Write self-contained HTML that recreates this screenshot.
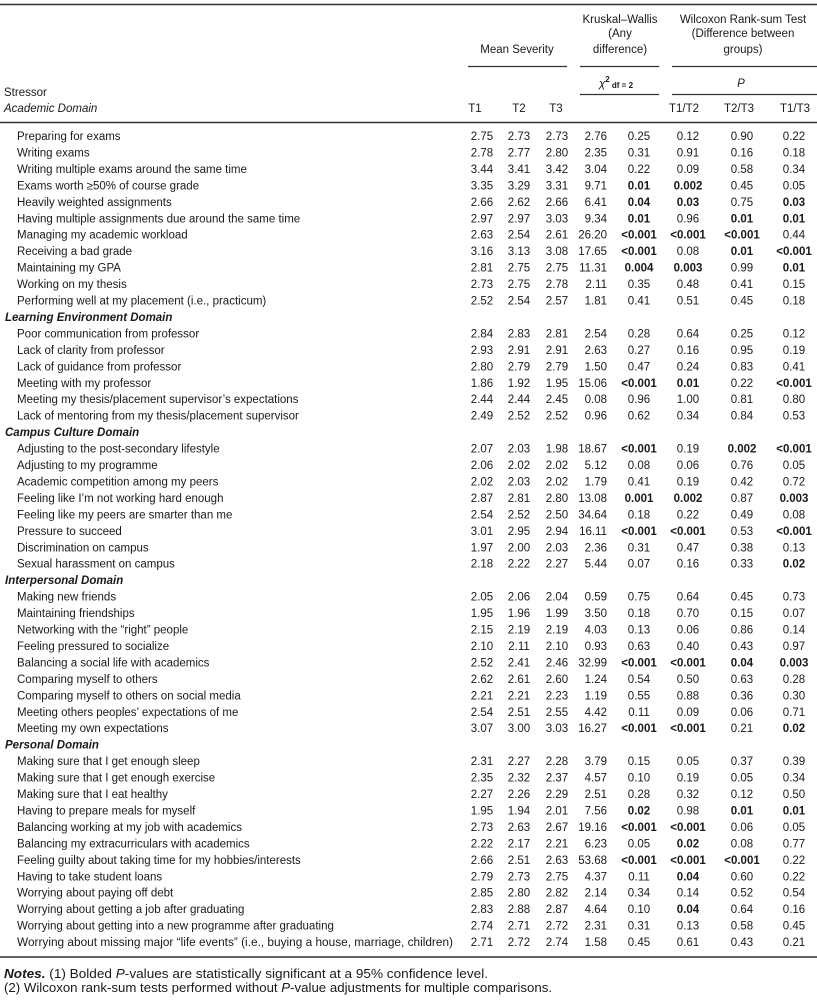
<!DOCTYPE html>
<html>
<head>
<meta charset="utf-8">
<style>
  html, body { margin: 0; padding: 0; background: #fff; }
  svg { display: block; }
  text { font-family: "Liberation Sans", "DejaVu Sans", sans-serif; font-size: 11.5px; fill: #1a1a1a; }
  .b { font-weight: bold; }
  .i { font-style: italic; }
  .bi { font-weight: bold; font-style: italic; }
  .n { font-size: 12.5px; }
</style>
</head>
<body>
<svg width="817" height="1000" viewBox="0 0 817 1000" xmlns="http://www.w3.org/2000/svg">
  <!-- rules -->
  <line x1="0" y1="4.5" x2="817" y2="4.5" stroke="#333" stroke-width="1.4"/>
  <line x1="468" y1="66.5" x2="567" y2="66.5" stroke="#333" stroke-width="1.2"/>
  <line x1="580" y1="66.5" x2="659" y2="66.5" stroke="#333" stroke-width="1.2"/>
  <line x1="672" y1="66.5" x2="817" y2="66.5" stroke="#333" stroke-width="1.2"/>
  <line x1="580" y1="94.5" x2="659" y2="94.5" stroke="#333" stroke-width="1.2"/>
  <line x1="672" y1="94.5" x2="817" y2="94.5" stroke="#333" stroke-width="1.2"/>
  <line x1="0" y1="122.5" x2="817" y2="122.5" stroke="#333" stroke-width="1.4"/>
  <line x1="0" y1="957" x2="817" y2="957" stroke="#333" stroke-width="1.4"/>

  <!-- header -->
  <text x="620" y="23" text-anchor="middle">Kruskal–Wallis</text>
  <text x="620" y="37" text-anchor="middle">(Any</text>
  <text x="620" y="53" text-anchor="middle">difference)</text>
  <text x="743" y="23" text-anchor="middle">Wilcoxon Rank-sum Test</text>
  <text x="743" y="37" text-anchor="middle">(Difference between</text>
  <text x="743" y="53" text-anchor="middle">groups)</text>
  <text x="517" y="53" text-anchor="middle">Mean Severity</text>
  <text x="616" y="87" text-anchor="middle"><tspan class="i">χ</tspan><tspan dy="-5" font-size="8" font-weight="bold">2</tspan><tspan dy="6" font-size="8" font-weight="bold"> df = 2</tspan></text>
  <text x="741" y="87" text-anchor="middle" class="i">P</text>
  <text x="4" y="96">Stressor</text>
  <text x="4" y="112" class="i">Academic Domain</text>
  <text x="475" y="112" text-anchor="middle">T1</text>
  <text x="519" y="112" text-anchor="middle">T2</text>
  <text x="556" y="112" text-anchor="middle">T3</text>
  <text x="684" y="112" text-anchor="middle">T1/T2</text>
  <text x="739" y="112" text-anchor="middle">T2/T3</text>
  <text x="795" y="112" text-anchor="middle">T1/T3</text>

  <!-- rows -->
  <g transform="translate(0,140)"><text x="17">Preparing for exams</text><text x="482" text-anchor="middle">2.75</text><text x="519" text-anchor="middle">2.73</text><text x="557" text-anchor="middle">2.73</text><text x="607" text-anchor="end">2.76</text><text x="639" text-anchor="middle">0.25</text><text x="688" text-anchor="middle">0.12</text><text x="742" text-anchor="middle">0.90</text><text x="794" text-anchor="middle">0.22</text></g>
  <g transform="translate(0,156.45)"><text x="17">Writing exams</text><text x="482" text-anchor="middle">2.78</text><text x="519" text-anchor="middle">2.77</text><text x="557" text-anchor="middle">2.80</text><text x="607" text-anchor="end">2.35</text><text x="639" text-anchor="middle">0.31</text><text x="688" text-anchor="middle">0.91</text><text x="742" text-anchor="middle">0.16</text><text x="794" text-anchor="middle">0.18</text></g>
  <g transform="translate(0,172.9)"><text x="17">Writing multiple exams around the same time</text><text x="482" text-anchor="middle">3.44</text><text x="519" text-anchor="middle">3.41</text><text x="557" text-anchor="middle">3.42</text><text x="607" text-anchor="end">3.04</text><text x="639" text-anchor="middle">0.22</text><text x="688" text-anchor="middle">0.09</text><text x="742" text-anchor="middle">0.58</text><text x="794" text-anchor="middle">0.34</text></g>
  <g transform="translate(0,189.35)"><text x="17">Exams worth ≥50% of course grade</text><text x="482" text-anchor="middle">3.35</text><text x="519" text-anchor="middle">3.29</text><text x="557" text-anchor="middle">3.31</text><text x="607" text-anchor="end">9.71</text><text x="639" text-anchor="middle" class="b">0.01</text><text x="688" text-anchor="middle" class="b">0.002</text><text x="742" text-anchor="middle">0.45</text><text x="794" text-anchor="middle">0.05</text></g>
  <g transform="translate(0,205.8)"><text x="17">Heavily weighted assignments</text><text x="482" text-anchor="middle">2.66</text><text x="519" text-anchor="middle">2.62</text><text x="557" text-anchor="middle">2.66</text><text x="607" text-anchor="end">6.41</text><text x="639" text-anchor="middle" class="b">0.04</text><text x="688" text-anchor="middle" class="b">0.03</text><text x="742" text-anchor="middle">0.75</text><text x="794" text-anchor="middle" class="b">0.03</text></g>
  <g transform="translate(0,222.25)"><text x="17">Having multiple assignments due around the same time</text><text x="482" text-anchor="middle">2.97</text><text x="519" text-anchor="middle">2.97</text><text x="557" text-anchor="middle">3.03</text><text x="607" text-anchor="end">9.34</text><text x="639" text-anchor="middle" class="b">0.01</text><text x="688" text-anchor="middle">0.96</text><text x="742" text-anchor="middle" class="b">0.01</text><text x="794" text-anchor="middle" class="b">0.01</text></g>
  <g transform="translate(0,238.7)"><text x="17">Managing my academic workload</text><text x="482" text-anchor="middle">2.63</text><text x="519" text-anchor="middle">2.54</text><text x="557" text-anchor="middle">2.61</text><text x="607" text-anchor="end">26.20</text><text x="639" text-anchor="middle" class="b">&lt;0.001</text><text x="688" text-anchor="middle" class="b">&lt;0.001</text><text x="742" text-anchor="middle" class="b">&lt;0.001</text><text x="794" text-anchor="middle">0.44</text></g>
  <g transform="translate(0,255.15)"><text x="17">Receiving a bad grade</text><text x="482" text-anchor="middle">3.16</text><text x="519" text-anchor="middle">3.13</text><text x="557" text-anchor="middle">3.08</text><text x="607" text-anchor="end">17.65</text><text x="639" text-anchor="middle" class="b">&lt;0.001</text><text x="688" text-anchor="middle">0.08</text><text x="742" text-anchor="middle" class="b">0.01</text><text x="794" text-anchor="middle" class="b">&lt;0.001</text></g>
  <g transform="translate(0,271.6)"><text x="17">Maintaining my GPA</text><text x="482" text-anchor="middle">2.81</text><text x="519" text-anchor="middle">2.75</text><text x="557" text-anchor="middle">2.75</text><text x="607" text-anchor="end">11.31</text><text x="639" text-anchor="middle" class="b">0.004</text><text x="688" text-anchor="middle" class="b">0.003</text><text x="742" text-anchor="middle">0.99</text><text x="794" text-anchor="middle" class="b">0.01</text></g>
  <g transform="translate(0,288.05)"><text x="17">Working on my thesis</text><text x="482" text-anchor="middle">2.73</text><text x="519" text-anchor="middle">2.75</text><text x="557" text-anchor="middle">2.78</text><text x="607" text-anchor="end">2.11</text><text x="639" text-anchor="middle">0.35</text><text x="688" text-anchor="middle">0.48</text><text x="742" text-anchor="middle">0.41</text><text x="794" text-anchor="middle">0.15</text></g>
  <g transform="translate(0,304.5)"><text x="17">Performing well at my placement (i.e., practicum)</text><text x="482" text-anchor="middle">2.52</text><text x="519" text-anchor="middle">2.54</text><text x="557" text-anchor="middle">2.57</text><text x="607" text-anchor="end">1.81</text><text x="639" text-anchor="middle">0.41</text><text x="688" text-anchor="middle">0.51</text><text x="742" text-anchor="middle">0.45</text><text x="794" text-anchor="middle">0.18</text></g>

  <g transform="translate(0,320.95)"><text x="5" class="bi">Learning Environment Domain</text></g>
  <g transform="translate(0,337.4)"><text x="17">Poor communication from professor</text><text x="482" text-anchor="middle">2.84</text><text x="519" text-anchor="middle">2.83</text><text x="557" text-anchor="middle">2.81</text><text x="607" text-anchor="end">2.54</text><text x="639" text-anchor="middle">0.28</text><text x="688" text-anchor="middle">0.64</text><text x="742" text-anchor="middle">0.25</text><text x="794" text-anchor="middle">0.12</text></g>
  <g transform="translate(0,353.85)"><text x="17">Lack of clarity from professor</text><text x="482" text-anchor="middle">2.93</text><text x="519" text-anchor="middle">2.91</text><text x="557" text-anchor="middle">2.91</text><text x="607" text-anchor="end">2.63</text><text x="639" text-anchor="middle">0.27</text><text x="688" text-anchor="middle">0.16</text><text x="742" text-anchor="middle">0.95</text><text x="794" text-anchor="middle">0.19</text></g>
  <g transform="translate(0,370.3)"><text x="17">Lack of guidance from professor</text><text x="482" text-anchor="middle">2.80</text><text x="519" text-anchor="middle">2.79</text><text x="557" text-anchor="middle">2.79</text><text x="607" text-anchor="end">1.50</text><text x="639" text-anchor="middle">0.47</text><text x="688" text-anchor="middle">0.24</text><text x="742" text-anchor="middle">0.83</text><text x="794" text-anchor="middle">0.41</text></g>
  <g transform="translate(0,386.75)"><text x="17">Meeting with my professor</text><text x="482" text-anchor="middle">1.86</text><text x="519" text-anchor="middle">1.92</text><text x="557" text-anchor="middle">1.95</text><text x="607" text-anchor="end">15.06</text><text x="639" text-anchor="middle" class="b">&lt;0.001</text><text x="688" text-anchor="middle" class="b">0.01</text><text x="742" text-anchor="middle">0.22</text><text x="794" text-anchor="middle" class="b">&lt;0.001</text></g>
  <g transform="translate(0,403.2)"><text x="17">Meeting my thesis/placement supervisor’s expectations</text><text x="482" text-anchor="middle">2.44</text><text x="519" text-anchor="middle">2.44</text><text x="557" text-anchor="middle">2.45</text><text x="607" text-anchor="end">0.08</text><text x="639" text-anchor="middle">0.96</text><text x="688" text-anchor="middle">1.00</text><text x="742" text-anchor="middle">0.81</text><text x="794" text-anchor="middle">0.80</text></g>
  <g transform="translate(0,419.65)"><text x="17">Lack of mentoring from my thesis/placement supervisor</text><text x="482" text-anchor="middle">2.49</text><text x="519" text-anchor="middle">2.52</text><text x="557" text-anchor="middle">2.52</text><text x="607" text-anchor="end">0.96</text><text x="639" text-anchor="middle">0.62</text><text x="688" text-anchor="middle">0.34</text><text x="742" text-anchor="middle">0.84</text><text x="794" text-anchor="middle">0.53</text></g>

  <g transform="translate(0,436.1)"><text x="5" class="bi">Campus Culture Domain</text></g>
  <g transform="translate(0,452.55)"><text x="17">Adjusting to the post-secondary lifestyle</text><text x="482" text-anchor="middle">2.07</text><text x="519" text-anchor="middle">2.03</text><text x="557" text-anchor="middle">1.98</text><text x="607" text-anchor="end">18.67</text><text x="639" text-anchor="middle" class="b">&lt;0.001</text><text x="688" text-anchor="middle">0.19</text><text x="742" text-anchor="middle" class="b">0.002</text><text x="794" text-anchor="middle" class="b">&lt;0.001</text></g>
  <g transform="translate(0,469)"><text x="17">Adjusting to my programme</text><text x="482" text-anchor="middle">2.06</text><text x="519" text-anchor="middle">2.02</text><text x="557" text-anchor="middle">2.02</text><text x="607" text-anchor="end">5.12</text><text x="639" text-anchor="middle">0.08</text><text x="688" text-anchor="middle">0.06</text><text x="742" text-anchor="middle">0.76</text><text x="794" text-anchor="middle">0.05</text></g>
  <g transform="translate(0,485.45)"><text x="17">Academic competition among my peers</text><text x="482" text-anchor="middle">2.02</text><text x="519" text-anchor="middle">2.03</text><text x="557" text-anchor="middle">2.02</text><text x="607" text-anchor="end">1.79</text><text x="639" text-anchor="middle">0.41</text><text x="688" text-anchor="middle">0.19</text><text x="742" text-anchor="middle">0.42</text><text x="794" text-anchor="middle">0.72</text></g>
  <g transform="translate(0,501.9)"><text x="17">Feeling like I’m not working hard enough</text><text x="482" text-anchor="middle">2.87</text><text x="519" text-anchor="middle">2.81</text><text x="557" text-anchor="middle">2.80</text><text x="607" text-anchor="end">13.08</text><text x="639" text-anchor="middle" class="b">0.001</text><text x="688" text-anchor="middle" class="b">0.002</text><text x="742" text-anchor="middle">0.87</text><text x="794" text-anchor="middle" class="b">0.003</text></g>
  <g transform="translate(0,518.35)"><text x="17">Feeling like my peers are smarter than me</text><text x="482" text-anchor="middle">2.54</text><text x="519" text-anchor="middle">2.52</text><text x="557" text-anchor="middle">2.50</text><text x="607" text-anchor="end">34.64</text><text x="639" text-anchor="middle">0.18</text><text x="688" text-anchor="middle">0.22</text><text x="742" text-anchor="middle">0.49</text><text x="794" text-anchor="middle">0.08</text></g>
  <g transform="translate(0,534.8)"><text x="17">Pressure to succeed</text><text x="482" text-anchor="middle">3.01</text><text x="519" text-anchor="middle">2.95</text><text x="557" text-anchor="middle">2.94</text><text x="607" text-anchor="end">16.11</text><text x="639" text-anchor="middle" class="b">&lt;0.001</text><text x="688" text-anchor="middle" class="b">&lt;0.001</text><text x="742" text-anchor="middle">0.53</text><text x="794" text-anchor="middle" class="b">&lt;0.001</text></g>
  <g transform="translate(0,551.25)"><text x="17">Discrimination on campus</text><text x="482" text-anchor="middle">1.97</text><text x="519" text-anchor="middle">2.00</text><text x="557" text-anchor="middle">2.03</text><text x="607" text-anchor="end">2.36</text><text x="639" text-anchor="middle">0.31</text><text x="688" text-anchor="middle">0.47</text><text x="742" text-anchor="middle">0.38</text><text x="794" text-anchor="middle">0.13</text></g>
  <g transform="translate(0,567.7)"><text x="17">Sexual harassment on campus</text><text x="482" text-anchor="middle">2.18</text><text x="519" text-anchor="middle">2.22</text><text x="557" text-anchor="middle">2.27</text><text x="607" text-anchor="end">5.44</text><text x="639" text-anchor="middle">0.07</text><text x="688" text-anchor="middle">0.16</text><text x="742" text-anchor="middle">0.33</text><text x="794" text-anchor="middle" class="b">0.02</text></g>

  <g transform="translate(0,584.15)"><text x="5" class="bi">Interpersonal Domain</text></g>
  <g transform="translate(0,600.6)"><text x="17">Making new friends</text><text x="482" text-anchor="middle">2.05</text><text x="519" text-anchor="middle">2.06</text><text x="557" text-anchor="middle">2.04</text><text x="607" text-anchor="end">0.59</text><text x="639" text-anchor="middle">0.75</text><text x="688" text-anchor="middle">0.64</text><text x="742" text-anchor="middle">0.45</text><text x="794" text-anchor="middle">0.73</text></g>
  <g transform="translate(0,617.05)"><text x="17">Maintaining friendships</text><text x="482" text-anchor="middle">1.95</text><text x="519" text-anchor="middle">1.96</text><text x="557" text-anchor="middle">1.99</text><text x="607" text-anchor="end">3.50</text><text x="639" text-anchor="middle">0.18</text><text x="688" text-anchor="middle">0.70</text><text x="742" text-anchor="middle">0.15</text><text x="794" text-anchor="middle">0.07</text></g>
  <g transform="translate(0,633.5)"><text x="17">Networking with the “right” people</text><text x="482" text-anchor="middle">2.15</text><text x="519" text-anchor="middle">2.19</text><text x="557" text-anchor="middle">2.19</text><text x="607" text-anchor="end">4.03</text><text x="639" text-anchor="middle">0.13</text><text x="688" text-anchor="middle">0.06</text><text x="742" text-anchor="middle">0.86</text><text x="794" text-anchor="middle">0.14</text></g>
  <g transform="translate(0,649.95)"><text x="17">Feeling pressured to socialize</text><text x="482" text-anchor="middle">2.10</text><text x="519" text-anchor="middle">2.11</text><text x="557" text-anchor="middle">2.10</text><text x="607" text-anchor="end">0.93</text><text x="639" text-anchor="middle">0.63</text><text x="688" text-anchor="middle">0.40</text><text x="742" text-anchor="middle">0.43</text><text x="794" text-anchor="middle">0.97</text></g>
  <g transform="translate(0,666.4)"><text x="17">Balancing a social life with academics</text><text x="482" text-anchor="middle">2.52</text><text x="519" text-anchor="middle">2.41</text><text x="557" text-anchor="middle">2.46</text><text x="607" text-anchor="end">32.99</text><text x="639" text-anchor="middle" class="b">&lt;0.001</text><text x="688" text-anchor="middle" class="b">&lt;0.001</text><text x="742" text-anchor="middle" class="b">0.04</text><text x="794" text-anchor="middle" class="b">0.003</text></g>
  <g transform="translate(0,682.85)"><text x="17">Comparing myself to others</text><text x="482" text-anchor="middle">2.62</text><text x="519" text-anchor="middle">2.61</text><text x="557" text-anchor="middle">2.60</text><text x="607" text-anchor="end">1.24</text><text x="639" text-anchor="middle">0.54</text><text x="688" text-anchor="middle">0.50</text><text x="742" text-anchor="middle">0.63</text><text x="794" text-anchor="middle">0.28</text></g>
  <g transform="translate(0,699.3)"><text x="17">Comparing myself to others on social media</text><text x="482" text-anchor="middle">2.21</text><text x="519" text-anchor="middle">2.21</text><text x="557" text-anchor="middle">2.23</text><text x="607" text-anchor="end">1.19</text><text x="639" text-anchor="middle">0.55</text><text x="688" text-anchor="middle">0.88</text><text x="742" text-anchor="middle">0.36</text><text x="794" text-anchor="middle">0.30</text></g>
  <g transform="translate(0,715.75)"><text x="17">Meeting others peoples’ expectations of me</text><text x="482" text-anchor="middle">2.54</text><text x="519" text-anchor="middle">2.51</text><text x="557" text-anchor="middle">2.55</text><text x="607" text-anchor="end">4.42</text><text x="639" text-anchor="middle">0.11</text><text x="688" text-anchor="middle">0.09</text><text x="742" text-anchor="middle">0.06</text><text x="794" text-anchor="middle">0.71</text></g>
  <g transform="translate(0,732.2)"><text x="17">Meeting my own expectations</text><text x="482" text-anchor="middle">3.07</text><text x="519" text-anchor="middle">3.00</text><text x="557" text-anchor="middle">3.03</text><text x="607" text-anchor="end">16.27</text><text x="639" text-anchor="middle" class="b">&lt;0.001</text><text x="688" text-anchor="middle" class="b">&lt;0.001</text><text x="742" text-anchor="middle">0.21</text><text x="794" text-anchor="middle" class="b">0.02</text></g>

  <g transform="translate(0,748.65)"><text x="5" class="bi">Personal Domain</text></g>
  <g transform="translate(0,765.1)"><text x="17">Making sure that I get enough sleep</text><text x="482" text-anchor="middle">2.31</text><text x="519" text-anchor="middle">2.27</text><text x="557" text-anchor="middle">2.28</text><text x="607" text-anchor="end">3.79</text><text x="639" text-anchor="middle">0.15</text><text x="688" text-anchor="middle">0.05</text><text x="742" text-anchor="middle">0.37</text><text x="794" text-anchor="middle">0.39</text></g>
  <g transform="translate(0,781.55)"><text x="17">Making sure that I get enough exercise</text><text x="482" text-anchor="middle">2.35</text><text x="519" text-anchor="middle">2.32</text><text x="557" text-anchor="middle">2.37</text><text x="607" text-anchor="end">4.57</text><text x="639" text-anchor="middle">0.10</text><text x="688" text-anchor="middle">0.19</text><text x="742" text-anchor="middle">0.05</text><text x="794" text-anchor="middle">0.34</text></g>
  <g transform="translate(0,798)"><text x="17">Making sure that I eat healthy</text><text x="482" text-anchor="middle">2.27</text><text x="519" text-anchor="middle">2.26</text><text x="557" text-anchor="middle">2.29</text><text x="607" text-anchor="end">2.51</text><text x="639" text-anchor="middle">0.28</text><text x="688" text-anchor="middle">0.32</text><text x="742" text-anchor="middle">0.12</text><text x="794" text-anchor="middle">0.50</text></g>
  <g transform="translate(0,814.45)"><text x="17">Having to prepare meals for myself</text><text x="482" text-anchor="middle">1.95</text><text x="519" text-anchor="middle">1.94</text><text x="557" text-anchor="middle">2.01</text><text x="607" text-anchor="end">7.56</text><text x="639" text-anchor="middle" class="b">0.02</text><text x="688" text-anchor="middle">0.98</text><text x="742" text-anchor="middle" class="b">0.01</text><text x="794" text-anchor="middle" class="b">0.01</text></g>
  <g transform="translate(0,830.9)"><text x="17">Balancing working at my job with academics</text><text x="482" text-anchor="middle">2.73</text><text x="519" text-anchor="middle">2.63</text><text x="557" text-anchor="middle">2.67</text><text x="607" text-anchor="end">19.16</text><text x="639" text-anchor="middle" class="b">&lt;0.001</text><text x="688" text-anchor="middle" class="b">&lt;0.001</text><text x="742" text-anchor="middle">0.06</text><text x="794" text-anchor="middle">0.05</text></g>
  <g transform="translate(0,847.35)"><text x="17">Balancing my extracurriculars with academics</text><text x="482" text-anchor="middle">2.22</text><text x="519" text-anchor="middle">2.17</text><text x="557" text-anchor="middle">2.21</text><text x="607" text-anchor="end">6.23</text><text x="639" text-anchor="middle">0.05</text><text x="688" text-anchor="middle" class="b">0.02</text><text x="742" text-anchor="middle">0.08</text><text x="794" text-anchor="middle">0.77</text></g>
  <g transform="translate(0,863.8)"><text x="17">Feeling guilty about taking time for my hobbies/interests</text><text x="482" text-anchor="middle">2.66</text><text x="519" text-anchor="middle">2.51</text><text x="557" text-anchor="middle">2.63</text><text x="607" text-anchor="end">53.68</text><text x="639" text-anchor="middle" class="b">&lt;0.001</text><text x="688" text-anchor="middle" class="b">&lt;0.001</text><text x="742" text-anchor="middle" class="b">&lt;0.001</text><text x="794" text-anchor="middle">0.22</text></g>
  <g transform="translate(0,880.25)"><text x="17">Having to take student loans</text><text x="482" text-anchor="middle">2.79</text><text x="519" text-anchor="middle">2.73</text><text x="557" text-anchor="middle">2.75</text><text x="607" text-anchor="end">4.37</text><text x="639" text-anchor="middle">0.11</text><text x="688" text-anchor="middle" class="b">0.04</text><text x="742" text-anchor="middle">0.60</text><text x="794" text-anchor="middle">0.22</text></g>
  <g transform="translate(0,896.7)"><text x="17">Worrying about paying off debt</text><text x="482" text-anchor="middle">2.85</text><text x="519" text-anchor="middle">2.80</text><text x="557" text-anchor="middle">2.82</text><text x="607" text-anchor="end">2.14</text><text x="639" text-anchor="middle">0.34</text><text x="688" text-anchor="middle">0.14</text><text x="742" text-anchor="middle">0.52</text><text x="794" text-anchor="middle">0.54</text></g>
  <g transform="translate(0,913.15)"><text x="17">Worrying about getting a job after graduating</text><text x="482" text-anchor="middle">2.83</text><text x="519" text-anchor="middle">2.88</text><text x="557" text-anchor="middle">2.87</text><text x="607" text-anchor="end">4.64</text><text x="639" text-anchor="middle">0.10</text><text x="688" text-anchor="middle" class="b">0.04</text><text x="742" text-anchor="middle">0.64</text><text x="794" text-anchor="middle">0.16</text></g>
  <g transform="translate(0,929.6)"><text x="17">Worrying about getting into a new programme after graduating</text><text x="482" text-anchor="middle">2.74</text><text x="519" text-anchor="middle">2.71</text><text x="557" text-anchor="middle">2.72</text><text x="607" text-anchor="end">2.31</text><text x="639" text-anchor="middle">0.31</text><text x="688" text-anchor="middle">0.13</text><text x="742" text-anchor="middle">0.58</text><text x="794" text-anchor="middle">0.45</text></g>
  <g transform="translate(0,946.05)"><text x="17" textLength="436" lengthAdjust="spacingAndGlyphs">Worrying about missing major “life events” (i.e., buying a house, marriage, children)</text><text x="482" text-anchor="middle">2.71</text><text x="519" text-anchor="middle">2.72</text><text x="557" text-anchor="middle">2.74</text><text x="607" text-anchor="end">1.58</text><text x="639" text-anchor="middle">0.45</text><text x="688" text-anchor="middle">0.61</text><text x="742" text-anchor="middle">0.43</text><text x="794" text-anchor="middle">0.21</text></g>

  <!-- notes -->
  <text x="4" y="978" class="n" textLength="484" lengthAdjust="spacingAndGlyphs"><tspan class="bi">Notes.</tspan> (1) Bolded <tspan class="i">P</tspan>-values are statistically significant at a 95% confidence level.</text>
  <text x="4" y="992" class="n" textLength="548" lengthAdjust="spacingAndGlyphs">(2) Wilcoxon rank-sum tests performed without <tspan class="i">P</tspan>-value adjustments for multiple comparisons.</text>
</svg>
</body>
</html>
